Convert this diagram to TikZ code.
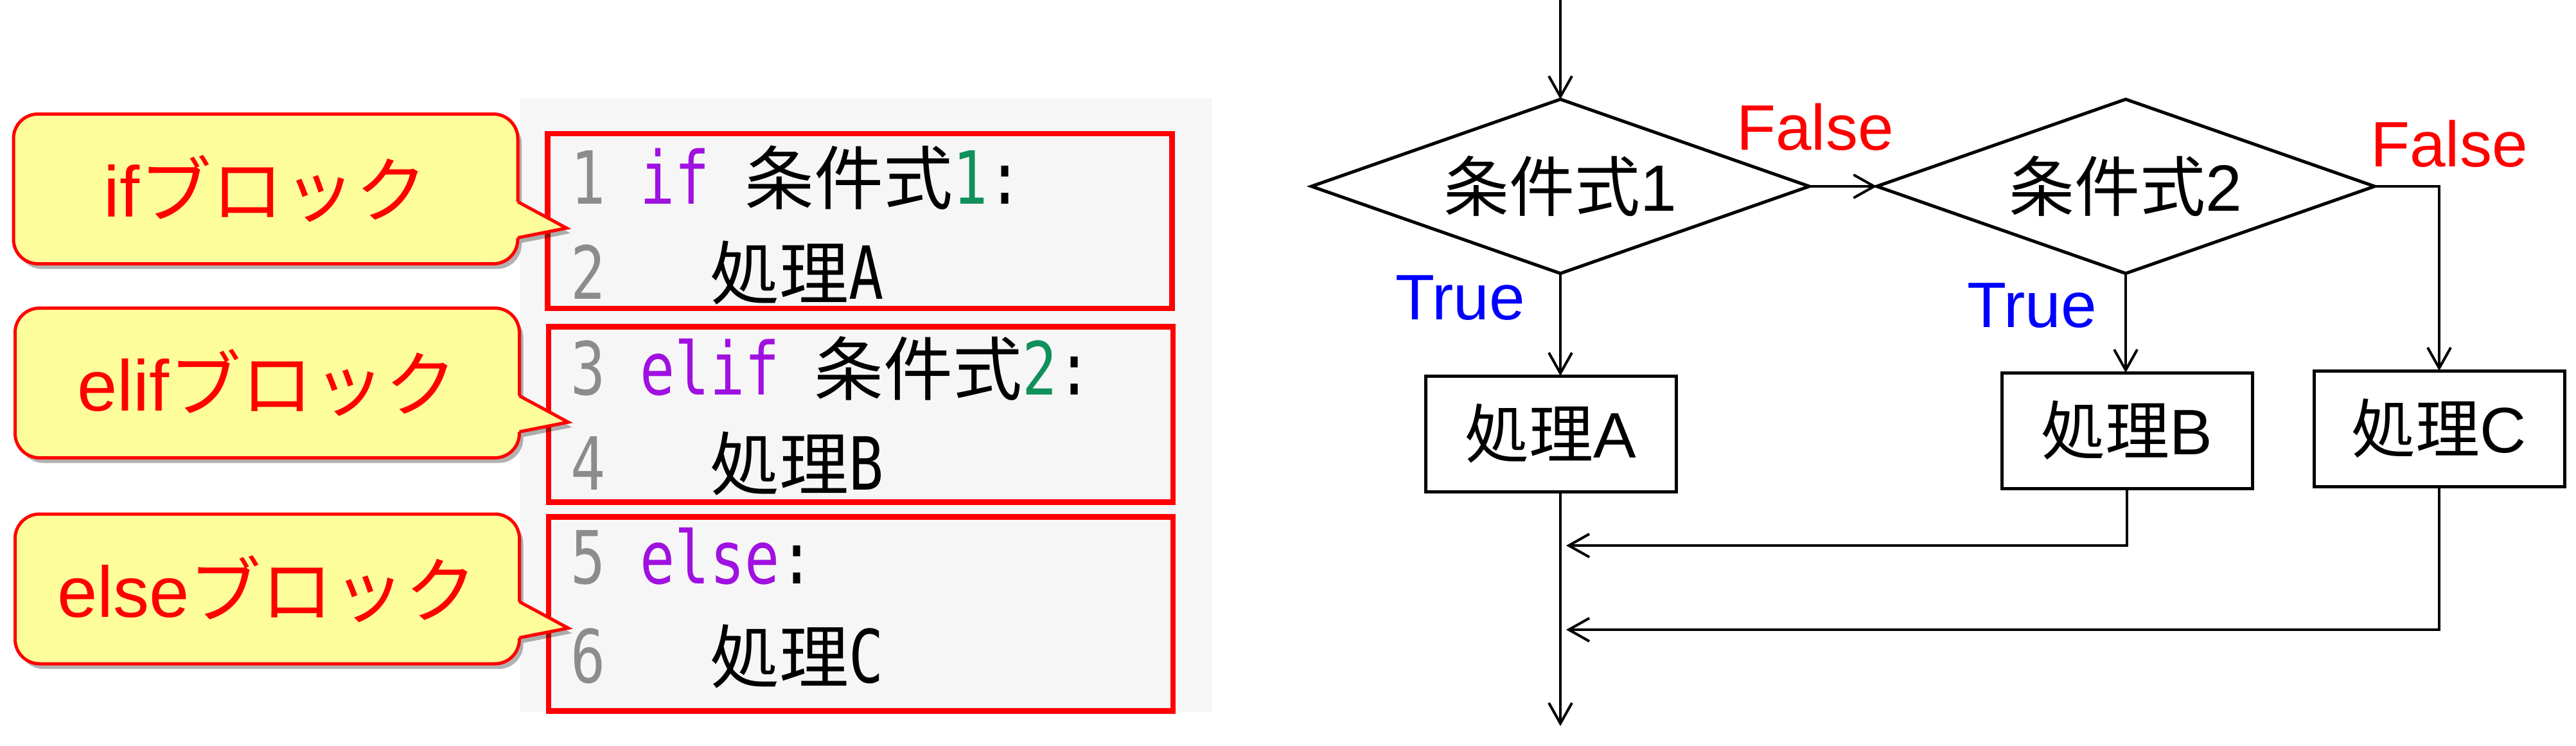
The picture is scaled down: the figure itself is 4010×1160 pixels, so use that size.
\documentclass[tikz,border=0pt]{standalone}
\usepackage{fontspec}
\setmainfont{Liberation Sans}
\newfontfamily\jpfont{Noto Sans CJK JP}
\newfontfamily\codefont{DejaVu Sans Mono}
\usepackage{graphicx}
\usepackage{xcolor}
\definecolor{colorLabelFill}{HTML}{FDFD9B}
\definecolor{colorKeyword}{HTML}{A010E0}
\definecolor{colorNumber}{HTML}{10905A}
\definecolor{colorLineNo}{HTML}{8C8C8C}
\definecolor{colorPanel}{HTML}{F6F6F6}
\usetikzlibrary{arrows.meta, shapes.geometric, shadows, positioning}
\newcommand{\ct}[1]{\scalebox{0.79}[1]{\fontsize{114pt}{114pt}\codefont #1}}
\tikzset{
  callout/.style={draw=red, line width=5pt, fill=colorLabelFill, rounded corners=38pt, outer sep=0pt,
    minimum width=785pt, minimum height=233pt, text=red, font=\fontsize{112pt}{112pt}\selectfont,
    drop shadow={shadow xshift=6pt, shadow yshift=-8pt, fill=black, opacity=0.3}},
  codebox/.style={draw=red, line width=8.5pt, minimum width=972pt},
  codeline/.style={anchor=base west, inner sep=0pt, font=\fontsize{108pt}{108pt}\jpfont},
  decision/.style={diamond, aspect=2.86, draw, line width=5pt, outer sep=0pt, inner sep=0pt,
    minimum width=775pt, minimum height=271pt, font=\fontsize{102pt}{102pt}\selectfont},
  process/.style={rectangle, draw, line width=5pt, outer sep=0pt,
    minimum width=390pt, minimum height=180pt, font=\fontsize{100pt}{100pt}\selectfont},
  flow/.style={line width=4pt, -{Straight Barb[length=32pt,width=36pt]}},
  falselabel/.style={text=red, anchor=base west, inner sep=0pt, font=\fontsize{100pt}{100pt}\selectfont},
  truelabel/.style={text=blue, anchor=base west, inner sep=0pt, font=\fontsize{100pt}{100pt}\selectfont},
}

\begin{document}
\begin{tikzpicture}[x=1pt, y=-1pt]
\useasboundingbox (0,0) rectangle (4010,1160);

% code panel
\fill[colorPanel] (810,153) rectangle (1887,1108);
\node[codebox, minimum height=272pt] (ifbox) at (1338.5,344) {};
\node[codebox, minimum height=273pt] (elifbox) at (1340,645) {};
\node[codebox, minimum height=302pt] (elsebox) at (1340,955.5) {};
\node[codeline] (line1) at (888,317) {\ct{\textcolor{colorLineNo}{1}\ \textcolor{colorKeyword}{if}\ }条件式\ct{\textcolor{colorNumber}{1}:}};
\node[codeline] (line2) at (888,465) {\ct{\textcolor{colorLineNo}{2}\ \ \ }処理\ct{A}};
\node[codeline] (line3) at (888,614) {\ct{\textcolor{colorLineNo}{3}\ \textcolor{colorKeyword}{elif}\ }条件式\ct{\textcolor{colorNumber}{2}:}};
\node[codeline] (line4) at (888,762) {\ct{\textcolor{colorLineNo}{4}\ \ \ }処理\ct{B}};
\node[codeline] (line5) at (888,908) {\ct{\textcolor{colorLineNo}{5}\ \textcolor{colorKeyword}{else}:}};
\node[codeline] (line6) at (888,1062) {\ct{\textcolor{colorLineNo}{6}\ \ \ }処理\ct{C}};

% callouts
\node[callout] (ifnote) at (413.5,294) {if{\jpfont ブロック}};
\node[callout] (elifnote) at (416,596) {elif{\jpfont ブロック}};
\node[callout] (elsenote) at (416,916.5) {else{\jpfont ブロック}};
\fill[black, opacity=0.3] ([xshift=6pt,yshift=-28pt]ifnote.east) -- ([xshift=82pt,yshift=-69pt]ifnote.east) -- ([xshift=6pt,yshift=-84pt]ifnote.east) -- cycle;
\fill[colorLabelFill] ([xshift=-5pt,yshift=-20pt]ifnote.east) -- ([yshift=-20pt]ifnote.east) -- ([xshift=76pt,yshift=-61pt]ifnote.east) -- ([yshift=-76pt]ifnote.east) -- ([xshift=-5pt,yshift=-76pt]ifnote.east) -- cycle;
\draw[red, line width=5pt] ([yshift=-20pt]ifnote.east) -- ([xshift=76pt,yshift=-61pt]ifnote.east) -- ([yshift=-76pt]ifnote.east);
\fill[black, opacity=0.3] ([xshift=6pt,yshift=-28pt]elifnote.east) -- ([xshift=82pt,yshift=-69pt]elifnote.east) -- ([xshift=6pt,yshift=-84pt]elifnote.east) -- cycle;
\fill[colorLabelFill] ([xshift=-5pt,yshift=-20pt]elifnote.east) -- ([yshift=-20pt]elifnote.east) -- ([xshift=76pt,yshift=-61pt]elifnote.east) -- ([yshift=-76pt]elifnote.east) -- ([xshift=-5pt,yshift=-76pt]elifnote.east) -- cycle;
\draw[red, line width=5pt] ([yshift=-20pt]elifnote.east) -- ([xshift=76pt,yshift=-61pt]elifnote.east) -- ([yshift=-76pt]elifnote.east);
\fill[black, opacity=0.3] ([xshift=6pt,yshift=-28pt]elsenote.east) -- ([xshift=82pt,yshift=-69pt]elsenote.east) -- ([xshift=6pt,yshift=-84pt]elsenote.east) -- cycle;
\fill[colorLabelFill] ([xshift=-5pt,yshift=-20pt]elsenote.east) -- ([yshift=-20pt]elsenote.east) -- ([xshift=76pt,yshift=-61pt]elsenote.east) -- ([yshift=-76pt]elsenote.east) -- ([xshift=-5pt,yshift=-76pt]elsenote.east) -- cycle;
\draw[red, line width=5pt] ([yshift=-20pt]elsenote.east) -- ([xshift=76pt,yshift=-61pt]elsenote.east) -- ([yshift=-76pt]elsenote.east);

% flowchart
\node[decision] (cond1) at (2429,290) {{\jpfont 条件式}1};
\node[decision] (cond2) at (3309,290) {{\jpfont 条件式}2};
\node[process] (procA) at (2414,675) {{\jpfont 処理}A};
\node[process] (procB) at (3311,670) {{\jpfont 処理}B};
\node[process] (procC) at (3797,667) {{\jpfont 処理}C};
\node[falselabel] (false1) at (2703,233) {False};
\node[truelabel] (true1) at (2172,497) {True};
\node[falselabel] (false2) at (3690,259) {False};
\node[truelabel] (true2) at (3062,509) {True};
\coordinate (start) at (2429,0);
\coordinate (finish) at (2429,1130);
\coordinate (mergeB) at (2438,849);
\coordinate (mergeC) at (2438,980);
\draw[flow] (start) -- (cond1.north);
\draw[flow] (cond1.east) -- (cond2.west);
\draw[flow] (cond1.south) -- (cond1.south |- procA.north);
\draw[flow] (cond2.south) -- (cond2.south |- procB.north);
\draw[flow] (cond2.east) -| (procC.north);
\draw[flow] (cond1.south |- procA.south) -- (finish);
\draw[flow] (procB.south) |- (mergeB);
\draw[flow] (procC.south) |- (mergeC);
\end{tikzpicture}
\end{document}
